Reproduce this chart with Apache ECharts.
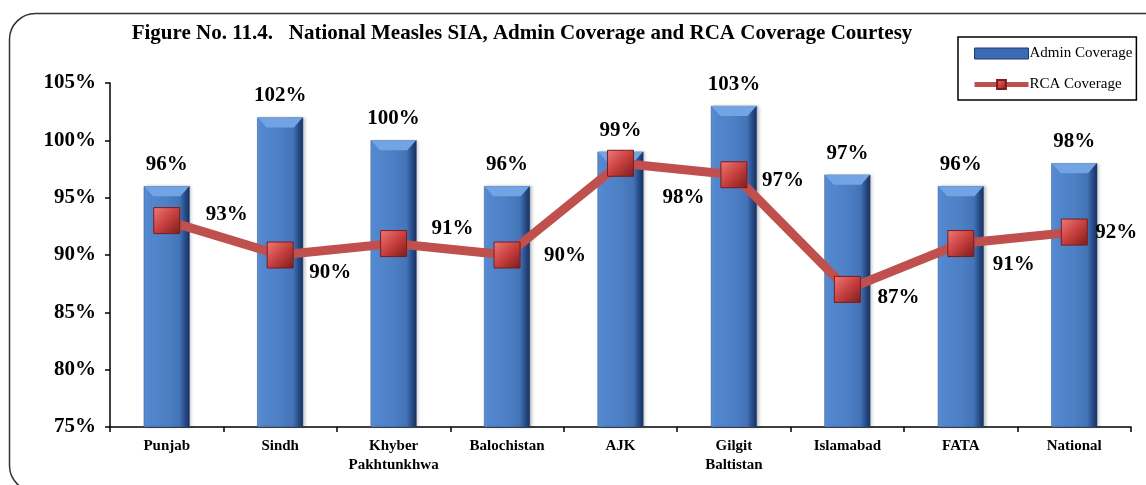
<!DOCTYPE html>
<html>
<head>
<meta charset="utf-8">
<script src="https://cdn.jsdelivr.net/npm/echarts@6/dist/echarts.min.js"></script>
<style>
  html, body { margin: 0; padding: 0; background: #fff; }
  #chart { width: 1146px; height: 485px; }
</style>
</head>
<body>
<div id="chart"></div>
<script>
// data
const categories = ['Punjab', 'Sindh', 'Khyber\nPakhtunkhwa', 'Balochistan', 'AJK', 'Gilgit\nBaltistan', 'Islamabad', 'FATA', 'National'];
const adminCoverage = [96, 102, 100, 96, 99, 103, 97, 96, 98];
const rcaCoverage = [93, 90, 91, 90, 98, 97, 87, 91, 92];
const yTicks = [75, 80, 85, 90, 95, 100, 105];

// where each RCA label sits relative to its marker (px)
const rcaLabelOffsets = [[60, -6], [50, 18], [59, -15], [58, 1], [63, 34], [49, 6], [51, 8], [53, 21], [42, 1]];

const serif = '"Liberation Serif", "DejaVu Serif", serif';

const chart = echarts.init(document.getElementById('chart'));

const barColor = new echarts.graphic.LinearGradient(0, 0, 1, 0, [
  { offset: 0, color: '#5f93da' },
  { offset: 0.12, color: '#5287cf' },
  { offset: 0.5, color: '#4d7fc4' },
  { offset: 0.78, color: '#4474b8' },
  { offset: 0.88, color: '#2c5290' },
  { offset: 1, color: '#172f58' }
]);
const markColor = new echarts.graphic.LinearGradient(0, 0, 1, 1, [
  { offset: 0, color: '#ee7a78' },
  { offset: 0.5, color: '#c8403f' },
  { offset: 1, color: '#7a1c1c' }
]);

const option = {
  animation: false,
  backgroundColor: '#fff',
  textStyle: { fontFamily: serif },
  title: {
    text: 'Figure No. 11.4.   National Measles SIA, Admin Coverage and RCA Coverage Courtesy',
    left: 517,
    textAlign: 'center',
    top: 18,
    textStyle: { fontFamily: serif, fontSize: 21, fontWeight: 'bold', color: '#000' }
  },
  graphic: [{
    type: 'rect',
    left: 7, top: 11,
    shape: { width: 1170, height: 478, r: 26 },
    style: { fill: 'none', stroke: '#333', lineWidth: 1.5 },
    z: -1
  }],
  legend: {
    orient: 'vertical',
    left: 958,
    top: 37,
    padding: [9, 4, 8, 14],
    itemGap: 16,
    itemWidth: 54,
    itemHeight: 11,
    borderColor: '#000',
    borderWidth: 1.5,
    backgroundColor: '#fff',
    textStyle: { fontFamily: serif, fontSize: 15, color: '#000', padding: [0, 0, 0, -4] },
    data: [
      { name: 'Admin Coverage', icon: 'rect', itemStyle: { color: '#3d6bb3', borderColor: '#1d3a6e', borderWidth: 1 } },
      { name: 'RCA Coverage', lineStyle: { width: 5, color: '#c0504d' } }
    ]
  },
  grid: { left: 110, right: 15, top: 83, bottom: 58 },
  xAxis: {
    type: 'category',
    data: categories,
    axisLine: { lineStyle: { color: '#000', width: 1.5 } },
    axisTick: { show: true, length: 5, lineStyle: { color: '#000', width: 1.5 } },
    axisLabel: {
      interval: 0,
      hideOverlap: false,
      fontFamily: serif, fontSize: 15, fontWeight: 'bold', color: '#000',
      margin: 10, lineHeight: 19
    }
  },
  yAxis: {
    type: 'value',
    min: 75,
    max: 105,
    interval: 5,
    splitLine: { show: false },
    axisLine: { show: true, lineStyle: { color: '#000', width: 1.5 } },
    axisTick: { show: true, length: 5, lineStyle: { color: '#000', width: 1.5 } },
    axisLabel: {
      fontFamily: serif, fontSize: 21, fontWeight: 'bold', color: '#000', margin: 14,
      formatter: v => yTicks.includes(v) ? v + '%' : ''
    }
  },
  series: [
    {
      name: 'Admin Coverage',
      type: 'bar',
      data: adminCoverage,
      barWidth: 46,
      barGap: '-100%',
      itemStyle: {
        color: barColor,
        borderColor: '#2a4d8a',
        borderWidth: 0.5,
        shadowColor: 'rgba(0,0,0,0.2)',
        shadowBlur: 3,
        shadowOffsetX: 2
      },
      label: {
        show: true,
        position: 'top',
        distance: 11,
        formatter: '{c}%',
        fontFamily: serif, fontSize: 21, fontWeight: 'bold', color: '#000'
      }
    },
    {
      // light bevel on the top of each bar
      name: 'cap',
      type: 'pictorialBar',
      data: adminCoverage,
      barWidth: 46,
      barGap: '-100%',
      symbol: 'path://M0,0 L46,0 L37,10 L9,10 Z',
      symbolSize: [45, 10],
      symbolPosition: 'end',
      itemStyle: { color: '#72a3e3' },
      silent: true,
      z: 4
    },
    {
      name: 'RCA Coverage',
      type: 'line',
      data: rcaCoverage.map((v, i) => ({
        value: v,
        label: { offset: rcaLabelOffsets[i] }
      })),
      symbol: 'rect',
      symbolSize: 26,
      lineStyle: { color: '#c0504d', width: 9 },
      itemStyle: { color: markColor, borderColor: '#7a1c1c', borderWidth: 1 },
      label: {
        show: true,
        position: 'inside',
        formatter: '{c}%',
        fontFamily: serif, fontSize: 21, fontWeight: 'bold', color: '#000'
      },
      z: 5
    }
  ]
};

chart.setOption(option);
</script>
</body>
</html>
